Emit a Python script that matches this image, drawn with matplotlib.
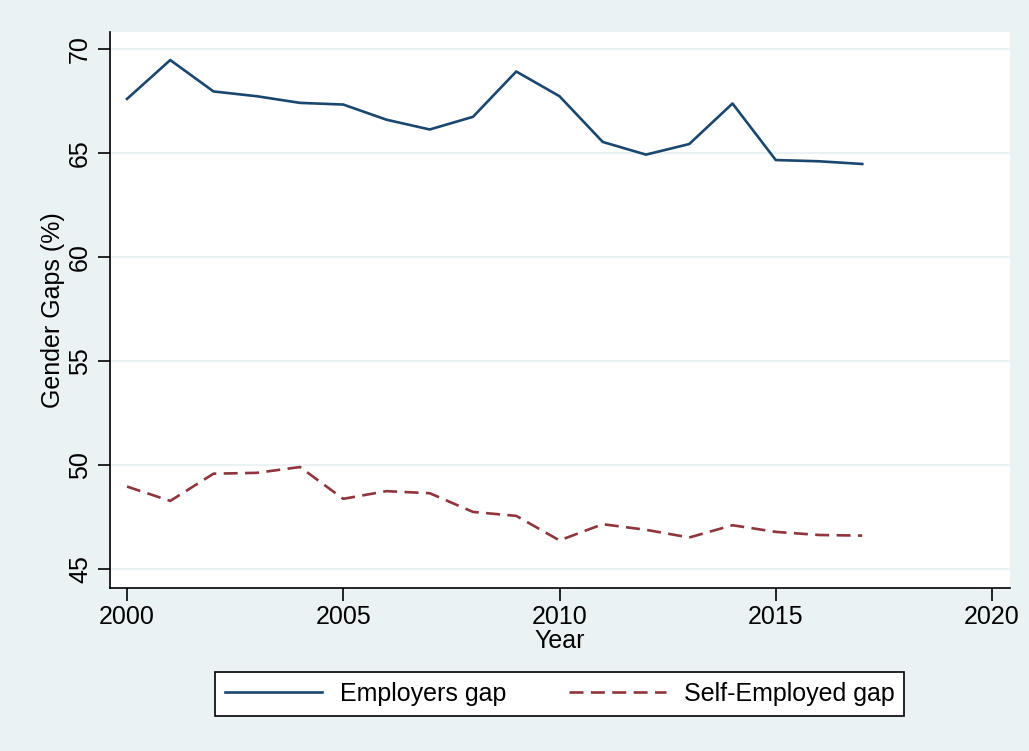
import numpy as np
import matplotlib.pyplot as plt

plt.rcParams['font.family'] = ['Liberation Sans', 'DejaVu Sans']

# %%
years = list(range(2000, 2018))
employers_gap = [67.6, 69.47, 67.96, 67.73, 67.41, 67.33, 66.6, 66.13, 66.74,
                 68.92, 67.73, 65.53, 64.92, 65.43, 67.38, 64.66, 64.6, 64.47]
self_employed_gap = [48.95, 48.26, 49.57, 49.61, 49.89, 48.36, 48.73, 48.63, 47.73,
                     47.54, 46.36, 47.14, 46.87, 46.5, 47.09, 46.77, 46.62, 46.59]
xticks = [2000, 2005, 2010, 2015, 2020]
yticks = [45, 50, 55, 60, 65, 70]

bg = '#EAF2F3'
navy = '#1A476F'
maroon = '#90353B'
fs = 18

# %%
fig = plt.figure(figsize=(10.29, 7.51), dpi=100, facecolor=bg)
ax = fig.add_axes([110/1029, 1-588/751, 900/1029, 556/751])
ax.set_facecolor('white')

ax.plot(years, employers_gap, color=navy, lw=1.9, label='Employers gap')
ax.plot(years, self_employed_gap, color=maroon, lw=1.9, dashes=(5.3, 2.8), label='Self-Employed gap')

ax.set_xlim(1999.607, 2020.416)
ax.set_ylim(44.07, 70.82)
ax.set_xticks(xticks)
ax.set_yticks(yticks)
ax.set_yticklabels([str(v) for v in yticks], rotation=90, va='center')
ax.tick_params(axis='both', direction='out', length=9, width=1.2, labelsize=fs, colors='black')
ax.tick_params(axis='x', pad=3)
ax.tick_params(axis='y', pad=4)
ax.grid(axis='y', color=bg, lw=1.5)
ax.set_axisbelow(True)

for s in ['top', 'right']:
    ax.spines[s].set_visible(False)
for s in ['left', 'bottom']:
    ax.spines[s].set_linewidth(1.2)

ax.set_xlabel('Year', fontsize=fs, labelpad=0)
ax.set_ylabel('Gender Gaps (%)', fontsize=fs, labelpad=2)

leg = fig.legend(loc='center', bbox_to_anchor=(559.5/1029, 1-694/751), ncol=2,
                 fontsize=fs, frameon=True, fancybox=False, edgecolor='black',
                 facecolor='white', framealpha=1, handlelength=3.9,
                 handletextpad=0.7, columnspacing=2.5, borderpad=0.4)
leg.get_frame().set_linewidth(1.2)

fig.savefig('out.png', dpi=100, facecolor=bg)
